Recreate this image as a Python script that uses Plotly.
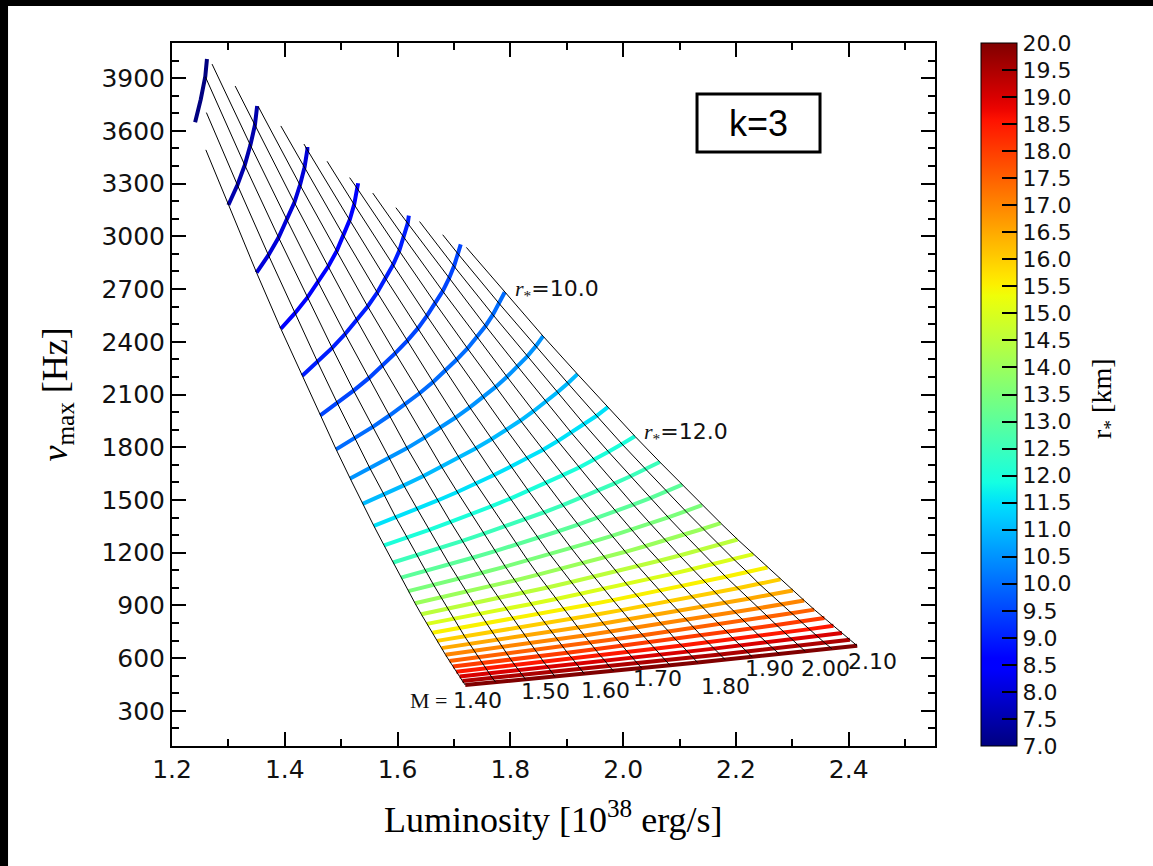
import numpy as np
import plotly.graph_objects as go

# ---------------- data ----------------
R_STAR = [7.0, 7.5, 8.0, 8.5, 9.0, 9.5, 10.0, 10.5, 11.0, 11.5, 12.0, 12.5, 13.0, 13.5,
          14.0, 14.5, 15.0, 15.5, 16.0, 16.5, 17.0, 17.5, 18.0, 18.5, 19.0, 19.5, 20.0]
MASS = [1.40, 1.45, 1.50, 1.55, 1.60, 1.65, 1.70, 1.75, 1.80, 1.85, 1.90, 1.95, 2.00, 2.05, 2.10]

# luminosity (1e38 erg/s) of each r* curve at the masses of MASS (in order, as far as the curve reaches)
LUM = [
    [1.241, 1.251, 1.259],
    [1.300, 1.316, 1.329, 1.339, 1.347],
    [1.350, 1.371, 1.389, 1.404, 1.417, 1.427, 1.435, 1.440],
    [1.393, 1.418, 1.440, 1.459, 1.477, 1.492, 1.504, 1.515, 1.523, 1.529],
    [1.431, 1.458, 1.484, 1.507, 1.528, 1.547, 1.564, 1.579, 1.592, 1.603, 1.611, 1.618],
    [1.463, 1.493, 1.522, 1.549, 1.573, 1.596, 1.617, 1.636, 1.652, 1.667, 1.680, 1.691, 1.700, 1.707],
    [1.491, 1.524, 1.556, 1.585, 1.613, 1.639, 1.663, 1.685, 1.705, 1.724, 1.741, 1.756, 1.769, 1.780, 1.790],
    [1.516, 1.551, 1.585, 1.617, 1.647, 1.676, 1.703, 1.728, 1.752, 1.774, 1.794, 1.813, 1.830, 1.845, 1.858],
    [1.538, 1.576, 1.611, 1.646, 1.678, 1.709, 1.739, 1.767, 1.793, 1.818, 1.841, 1.863, 1.883, 1.902, 1.919],
    [1.558, 1.597, 1.635, 1.671, 1.706, 1.739, 1.771, 1.801, 1.830, 1.858, 1.884, 1.908, 1.931, 1.953, 1.973],
    [1.576, 1.617, 1.656, 1.694, 1.731, 1.766, 1.800, 1.832, 1.863, 1.893, 1.922, 1.949, 1.974, 1.998, 2.021],
    [1.592, 1.634, 1.675, 1.715, 1.753, 1.790, 1.826, 1.860, 1.893, 1.925, 1.956, 1.985, 2.013, 2.040, 2.065],
    [1.606, 1.650, 1.692, 1.733, 1.773, 1.812, 1.849, 1.885, 1.920, 1.954, 1.987, 2.018, 2.048, 2.077, 2.105],
    [1.619, 1.664, 1.708, 1.750, 1.791, 1.831, 1.870, 1.908, 1.945, 1.980, 2.015, 2.048, 2.080, 2.111, 2.140],
    [1.631, 1.677, 1.722, 1.765, 1.808, 1.849, 1.890, 1.929, 1.967, 2.004, 2.040, 2.075, 2.109, 2.142, 2.173],
    [1.642, 1.689, 1.735, 1.780, 1.823, 1.866, 1.908, 1.948, 1.988, 2.026, 2.064, 2.100, 2.135, 2.170, 2.203],
    [1.652, 1.700, 1.747, 1.793, 1.837, 1.881, 1.924, 1.966, 2.006, 2.046, 2.085, 2.123, 2.160, 2.196, 2.231],
    [1.662, 1.710, 1.758, 1.804, 1.850, 1.895, 1.939, 1.982, 2.024, 2.065, 2.105, 2.144, 2.182, 2.220, 2.256],
    [1.670, 1.719, 1.768, 1.815, 1.862, 1.908, 1.953, 1.997, 2.040, 2.082, 2.123, 2.163, 2.203, 2.241, 2.279],
    [1.678, 1.728, 1.777, 1.826, 1.873, 1.920, 1.965, 2.010, 2.054, 2.098, 2.140, 2.181, 2.222, 2.262, 2.301],
    [1.685, 1.736, 1.786, 1.835, 1.883, 1.931, 1.977, 2.023, 2.068, 2.112, 2.155, 2.198, 2.240, 2.281, 2.321],
    [1.692, 1.743, 1.794, 1.844, 1.893, 1.941, 1.988, 2.035, 2.081, 2.126, 2.170, 2.213, 2.256, 2.298, 2.339],
    [1.698, 1.750, 1.801, 1.852, 1.901, 1.950, 1.998, 2.046, 2.092, 2.138, 2.184, 2.228, 2.272, 2.314, 2.357],
    [1.704, 1.757, 1.808, 1.859, 1.910, 1.959, 2.008, 2.056, 2.104, 2.150, 2.196, 2.241, 2.286, 2.330, 2.373],
    [1.710, 1.763, 1.815, 1.867, 1.917, 1.968, 2.017, 2.066, 2.114, 2.161, 2.208, 2.254, 2.299, 2.344, 2.388],
    [1.715, 1.768, 1.821, 1.873, 1.925, 1.975, 2.025, 2.075, 2.123, 2.172, 2.219, 2.266, 2.312, 2.357, 2.402],
    [1.720, 1.774, 1.827, 1.879, 1.931, 1.983, 2.033, 2.083, 2.132, 2.181, 2.229, 2.277, 2.323, 2.370, 2.415],
]
# nu_max (Hz) of each r* curve at the same masses
NU = [
    [3649, 3779, 3909],
    [3178, 3292, 3405, 3519, 3632],
    [2793, 2893, 2993, 3093, 3192, 3292, 3392, 3492],
    [2474, 2563, 2651, 2740, 2828, 2916, 3005, 3093, 3181, 3270],
    [2207, 2286, 2365, 2444, 2522, 2601, 2680, 2759, 2838, 2917, 2995, 3074],
    [1981, 2052, 2122, 2193, 2264, 2335, 2405, 2476, 2547, 2618, 2688, 2759, 2830, 2901],
    [1788, 1852, 1916, 1979, 2043, 2107, 2171, 2235, 2299, 2362, 2426, 2490, 2554, 2618, 2682],
    [1622, 1680, 1737, 1795, 1853, 1911, 1969, 2027, 2085, 2143, 2201, 2259, 2317, 2374, 2432],
    [1478, 1530, 1583, 1636, 1689, 1741, 1794, 1847, 1900, 1952, 2005, 2058, 2111, 2164, 2216],
    [1352, 1400, 1448, 1497, 1545, 1593, 1642, 1690, 1738, 1786, 1835, 1883, 1931, 1979, 2028],
    [1242, 1286, 1330, 1375, 1419, 1463, 1508, 1552, 1596, 1641, 1685, 1729, 1774, 1818, 1862],
    [1144, 1185, 1226, 1267, 1308, 1349, 1389, 1430, 1471, 1512, 1553, 1594, 1635, 1675, 1716],
    [1058, 1096, 1133, 1171, 1209, 1247, 1285, 1322, 1360, 1398, 1436, 1473, 1511, 1549, 1587],
    [981, 1016, 1051, 1086, 1121, 1156, 1191, 1226, 1261, 1296, 1331, 1366, 1401, 1436, 1471],
    [912, 945, 977, 1010, 1042, 1075, 1108, 1140, 1173, 1205, 1238, 1270, 1303, 1336, 1368],
    [850, 881, 911, 941, 972, 1002, 1033, 1063, 1093, 1124, 1154, 1184, 1215, 1245, 1275],
    [795, 823, 851, 880, 908, 936, 965, 993, 1022, 1050, 1078, 1107, 1135, 1163, 1192],
    [744, 771, 797, 824, 850, 877, 904, 930, 957, 983, 1010, 1036, 1063, 1090, 1116],
    [698, 723, 748, 773, 798, 823, 848, 873, 898, 923, 948, 973, 998, 1023, 1048],
    [657, 680, 704, 727, 750, 774, 797, 821, 844, 868, 891, 915, 938, 962, 985],
    [619, 641, 663, 685, 707, 729, 751, 773, 795, 817, 840, 862, 884, 906, 928],
    [584, 605, 625, 646, 667, 688, 709, 730, 751, 771, 792, 813, 834, 855, 876],
    [552, 571, 591, 611, 631, 650, 670, 690, 709, 729, 749, 769, 788, 808, 828],
    [522, 541, 560, 578, 597, 616, 634, 653, 672, 690, 709, 728, 746, 765, 784],
    [495, 513, 531, 548, 566, 584, 601, 619, 637, 654, 672, 690, 707, 725, 743],
    [470, 487, 504, 521, 537, 554, 571, 588, 604, 621, 638, 655, 672, 688, 705],
    [447, 463, 479, 495, 511, 527, 543, 559, 575, 591, 607, 623, 638, 654, 670],
]
# end points of the short r* curves (r* = 7.0 ... 9.5) on the upper edge
LUM_EDGE = [1.262, 1.351, 1.440, 1.530, 1.620, 1.712]
NU_EDGE = [4009, 3742, 3508, 3302, 3118, 2954]
# upper start of each constant-M line
TOP_R = [7.155, 7.07, 7.0, 7.05, 7.28, 7.51, 7.735, 7.96, 8.19, 8.42, 8.645, 8.87, 9.1, 9.33, 9.555]
TOP_LUM = [1.260, 1.261, 1.259, 1.271, 1.312, 1.353, 1.393, 1.434, 1.475, 1.515, 1.556, 1.597, 1.639, 1.680, 1.722]
TOP_NU = [3492, 3704, 3909, 3980, 3855, 3738, 3628, 3525, 3427, 3334, 3246, 3163, 3084, 3009, 2937]

R_LABELS = ["10.0", "12.0"]
M_LABELS = ["1.40", "1.50", "1.60", "1.70", "1.80", "1.90", "2.00", "2.10"]
X_TICKS = [1.2, 1.4, 1.6, 1.8, 2.0, 2.2, 2.4]
Y_TICKS = [300, 600, 900, 1200, 1500, 1800, 2100, 2400, 2700, 3000, 3300, 3600, 3900]
CBAR_TICKS = [7.0, 7.5, 8.0, 8.5, 9.0, 9.5, 10.0, 10.5, 11.0, 11.5, 12.0, 12.5, 13.0, 13.5,
              14.0, 14.5, 15.0, 15.5, 16.0, 16.5, 17.0, 17.5, 18.0, 18.5, 19.0, 19.5, 20.0]
R_MIN, R_MAX = 7.0, 20.0

# ---------------- styling helpers ----------------
def jet(v):
    r = np.interp(v, [0, 0.35, 0.66, 0.89, 1], [0, 0, 1, 1, 0.5])
    g = np.interp(v, [0, 0.125, 0.375, 0.64, 0.91, 1], [0, 0, 1, 1, 0, 0])
    b = np.interp(v, [0, 0.11, 0.34, 0.65, 1], [0.5, 1, 1, 0, 0])
    return "rgb(%d,%d,%d)" % (round(r * 255), round(g * 255), round(b * 255))

fig = go.Figure()

# constant r* curves (coloured)
edge_i = 0
for i, r in enumerate(R_STAR):
    xs = list(LUM[i])
    ys = list(NU[i])
    if len(xs) < len(MASS) or (r < 9.6 and edge_i < len(LUM_EDGE)):
        if edge_i < len(LUM_EDGE):
            xs.append(LUM_EDGE[edge_i])
            ys.append(NU_EDGE[edge_i])
            edge_i += 1
    fig.add_trace(go.Scatter(x=xs, y=ys, mode="lines",
                             line=dict(color=jet((r - R_MIN) / (R_MAX - R_MIN)), width=4),
                             hoverinfo="skip", showlegend=False))

# constant M lines (black)
for j, m in enumerate(MASS):
    xs = [TOP_LUM[j]]
    ys = [TOP_NU[j]]
    for i, r in enumerate(R_STAR):
        if r > TOP_R[j] + 1e-9 and j < len(LUM[i]):
            xs.append(LUM[i][j])
            ys.append(NU[i][j])
    fig.add_trace(go.Scatter(x=xs, y=ys, mode="lines", line=dict(color="black", width=1),
                             hoverinfo="skip", showlegend=False))

# colour bar
jet_scale = [[k / 64, jet(k / 64)] for k in range(65)]
fig.add_trace(go.Scatter(
    x=[None], y=[None], mode="markers", hoverinfo="skip", showlegend=False,
    marker=dict(color=[R_MIN, R_MAX], cmin=R_MIN, cmax=R_MAX, colorscale=jet_scale, showscale=True,
                colorbar=dict(x=1.0603, xanchor="left", xpad=0, ypad=0, y=0.5, yanchor="middle",
                              len=703, lenmode="pixels", thickness=36, thicknessmode="pixels",
                              outlinewidth=1, outlinecolor="black",
                              tickvals=CBAR_TICKS, tickformat=".1f",
                              ticks="inside", ticklen=15, tickwidth=2, tickcolor="black",
                              tickfont=dict(family="DejaVu Sans", size=22, color="#111")))))

axis_common = dict(showline=True, linecolor="black", linewidth=2, mirror="allticks", ticks="inside",
                   ticklen=14, tickwidth=2, tickcolor="black", showgrid=False, zeroline=False,
                   tickfont=dict(family="DejaVu Sans", size=25, color="#111"))
fig.update_xaxes(range=[1.2, 2.553], tickvals=X_TICKS, tickformat=".1f",
                 minor=dict(dtick=0.1, tick0=1.2, ticks="inside", ticklen=7, tickwidth=2, tickcolor="black"),
                 **axis_common)
fig.update_yaxes(range=[100, 4100], tickvals=Y_TICKS,
                 minor=dict(dtick=100, tick0=100, ticks="inside", ticklen=7, tickwidth=2, tickcolor="black"),
                 **axis_common)

serif = "Liberation Serif"
ann = [
    dict(x=0.5, y=-0.1024, xref="paper", yref="paper", showarrow=False, xanchor="center", yanchor="middle",
         text="Luminosity [10<sup>38</sup> erg/s]", font=dict(family=serif, size=36, color="black")),
    dict(x=-0.1507, y=0.5, xref="paper", yref="paper", showarrow=False, textangle=-90,
         xanchor="center", yanchor="middle",
         text="<i>ν</i><sub>max</sub> [Hz]", font=dict(family=serif, size=36, color="black")),
    dict(x=1.2215, y=0.4936, xref="paper", yref="paper", showarrow=False, textangle=-90,
         xanchor="center", yanchor="middle",
         text="r<sub>*</sub> [km]", font=dict(family=serif, size=28, color="black")),
    dict(x=0.7687, y=0.8862, xref="paper", yref="paper", showarrow=False, xanchor="center", yanchor="middle",
         text="k=3", font=dict(family="Liberation Sans", size=36, color="black")),
]
R_LABEL_POS = [(1.804, 2696), (2.033, 1882)]
for t, (x, y) in zip(R_LABELS, R_LABEL_POS):
    ann.append(dict(x=x, y=y, xanchor="left", yanchor="middle", showarrow=False,
                    text='<span style="font-family:Liberation Serif"><i>r</i><sub>*</sub></span>=' + t,
                    font=dict(family="DejaVu Sans", size=22, color="#111")))
M_LABEL_POS = [(1.6183, 357), (1.8629, 408), (1.9692, 414), (2.0614, 482), (2.1819, 437),
               (2.2599, 539), (2.3592, 539), (2.4425, 579)]
for i, (t, (x, y)) in enumerate(zip(M_LABELS, M_LABEL_POS)):
    if i == 0:
        ann.append(dict(x=x, y=y, xanchor="left", yanchor="middle", showarrow=False,
                        text='<span style="font-family:Liberation Serif">M = </span>' + t,
                        font=dict(family="DejaVu Sans", size=22, color="#111")))
    else:
        ann.append(dict(x=x, y=y, xanchor="center", yanchor="middle", showarrow=False, text=t,
                        font=dict(family="DejaVu Sans", size=22, color="#111")))

shapes = [
    dict(type="rect", xref="paper", yref="paper", x0=0.6881, x1=0.8493, y0=0.8450, y1=0.9275,
         line=dict(color="black", width=3), fillcolor="white", layer="below"),
    dict(type="rect", xref="paper", yref="paper", x0=-0.30, x1=1.40, y0=1.0526, y1=1.10,
         line=dict(width=0), fillcolor="black"),
    dict(type="rect", xref="paper", yref="paper", x0=-0.30, x1=-0.2149, y0=-0.25, y1=1.10,
         line=dict(width=0), fillcolor="black"),
]
fig.update_layout(width=1153, height=866, margin=dict(l=172, r=218, t=43, b=120),
                  paper_bgcolor="white", plot_bgcolor="white", annotations=ann, shapes=shapes)
fig.write_html("out.html", config={"displayModeBar": False},
               post_script="document.body.style.margin='0px';document.body.style.overflow='hidden';")
